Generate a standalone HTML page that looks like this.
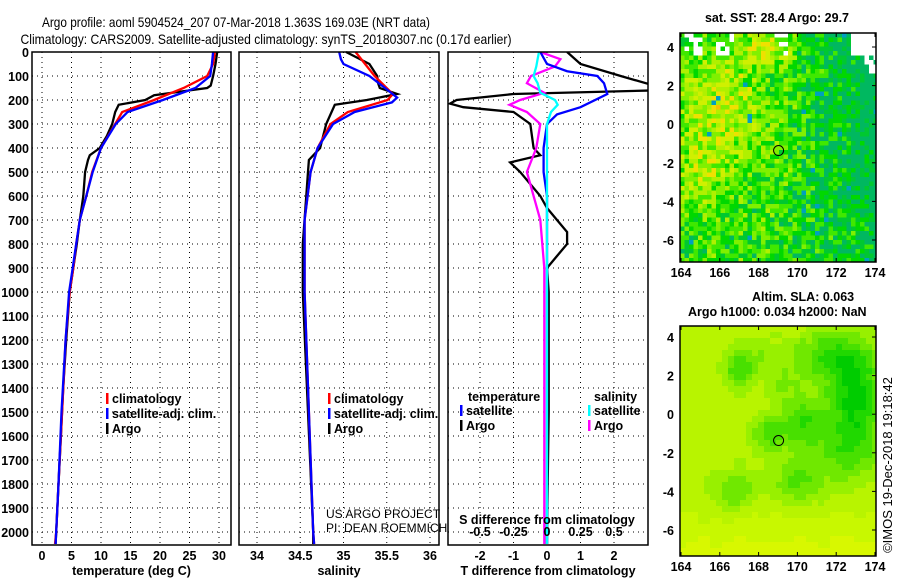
<!DOCTYPE html>
<html><head><meta charset="utf-8"><style>
html,body{margin:0;padding:0;background:#fff;}
svg{display:block;font-family:"Liberation Sans",sans-serif;}
.t{font-size:12.5px;font-weight:bold;fill:#000;}
</style></head><body>
<svg id="fig" width="900" height="580" viewBox="0 0 900 580">
<text x="236" y="27" text-anchor="middle" font-size="14" textLength="388" lengthAdjust="spacingAndGlyphs">Argo profile: aoml 5904524_207 07-Mar-2018 1.363S 169.03E (NRT data)</text>
<text x="266" y="44" text-anchor="middle" font-size="14" textLength="491" lengthAdjust="spacingAndGlyphs">Climatology: CARS2009. Satellite-adjusted climatology: synTS_20180307.nc (0.17d earlier)</text>
<g id="panels"></g>
<text class="t" x="777" y="22" text-anchor="middle">sat. SST: 28.4 Argo: 29.7</text>
<text class="t" x="752" y="301">Altim. SLA: 0.063</text>
<text class="t" x="688" y="316">Argo h1000: 0.034 h2000: NaN</text>
<text x="892" y="465" font-size="13" text-anchor="middle" transform="rotate(-90 892 465)">©IMOS 19-Dec-2018 19:18:42</text>
</svg>
<script>
// ---- profile data ----
const depthT_argo = [0,50,100,140,150,160,180,200,220,250,300,350,400,430,450,500,600,700,800,900,1000,1200,1400,1600,1800,2000,2050];
const temp_argo   = [29.7,29.4,29.0,28.6,28.0,25.0,19.0,17.5,13.0,12.4,11.9,11.0,9.8,8.1,7.8,7.3,7.0,6.4,5.9,5.3,4.7,4.1,3.6,3.2,2.8,2.4,2.3];
const depthT_clim = [0,50,100,150,200,250,300,400,500,600,700,800,900,1000,1200,1500,1800,2000,2050];
const temp_clim   = [29.3,29.0,28.0,24.0,19.0,13.6,12.4,10.0,8.5,7.5,6.4,5.8,5.3,4.7,4.0,3.4,2.8,2.4,2.2];
const temp_sat    = [29.0,28.8,28.5,26.0,20.5,14.5,12.5,10.0,8.6,7.5,6.4,5.8,5.2,4.6,4.0,3.3,2.8,2.4,2.3];
const depthS_argo = [0,50,100,130,150,175,200,220,300,400,450,500,800,1000,1500,2000,2050];
const sal_argo    = [35.03,35.3,35.39,35.40,35.42,35.62,35.27,34.9,34.8,34.73,34.6,34.59,34.53,34.53,34.59,34.65,34.65];
const depthS_clim = [0,50,100,175,200,250,300,400,500,700,1000,1500,2000,2050];
const sal_clim    = [35.14,35.25,35.36,35.57,35.51,35.05,34.85,34.7,34.62,34.55,34.55,34.6,34.65,34.66];
const depthS_sat  = [0,30,50,100,150,190,210,250,300,400,500,700,1000,1500,2000,2050];
const sal_sat     = [34.95,34.97,35.0,35.3,35.48,35.62,35.56,35.13,34.88,34.7,34.62,34.55,34.55,34.6,34.65,34.66];
const depthD_T    = [0,50,100,140,160,175,200,215,230,250,300,400,430,460,500,600,650,700,750,800,850,900,1000,1500,2000,2050];
const tdiff_argo  = [0.6,1.0,2.2,3.2,3.2,-1.0,-2.7,-2.9,-2.5,-1.0,-0.5,-0.4,-0.2,-1.1,-0.8,-0.2,0.0,0.3,0.6,0.6,0.3,0.0,0.05,0.05,0.0,0.0];
const depthD_sat  = [0,50,80,100,130,175,230,260,300,400,500,600,2050];
const tdiff_sat   = [-0.2,0.0,0.6,1.5,1.7,1.8,1.0,0.3,0.0,-0.1,-0.1,0.0,0.0];
const depthD_S    = [0,30,60,100,130,170,200,220,250,300,400,500,700,900,2050];
const sdiff_argo  = [-0.05,0.1,0.06,-0.12,-0.15,-0.02,-0.2,-0.28,-0.15,-0.05,-0.08,-0.15,-0.05,-0.02,-0.02];
const sdiff_sat   = [-0.06,-0.07,-0.08,-0.1,-0.07,-0.05,0.06,0.08,0.03,0.0,0.0,0.0,0.0,0.0,0.0];
const depthTicks  = [0,100,200,300,400,500,600,700,800,900,1000,1100,1200,1300,1400,1500,1600,1700,1800,1900,2000];
const tempTicks   = [0,5,10,15,20,25,30];
const salTicks    = [34,34.5,35,35.5,36];
const tdTicks     = [-2,-1,0,1,2];
const sdTicks     = [-0.5,-0.25,0,0.25,0.5];
const lonTicks    = [164,166,168,170,172,174];
const latTicks    = [4,2,0,-2,-4,-6];

const NS="http://www.w3.org/2000/svg";
const G=document.getElementById('panels');
function mk(tag,attrs,parent){const e=document.createElementNS(NS,tag);for(const k in attrs)e.setAttribute(k,attrs[k]);(parent||G).appendChild(e);return e;}
const yD=d=>52+d*0.24;
const TOP=52,BOT=545;
function panel(x0,x1,name,xs,ticks,tickFmt,xlabel){
  const g=mk('g',{});
  
  
  ticks.forEach(t=>{const l=mk('line',{x1:xs(t),x2:xs(t),y1:TOP,y2:BOT,stroke:'#000','stroke-width':1,'stroke-dasharray':'1 4'},g);
    });
  depthTicks.forEach(d=>{const l=mk('line',{x1:x0,x2:x1,y1:yD(d),y2:yD(d),stroke:'#000','stroke-width':1,'stroke-dasharray':'1 4'},g);
    });
  if(tickFmt){ticks.forEach(t=>{const tx=mk('text',{x:xs(t),y:BOT+15,'text-anchor':'middle',class:'t'},g);tx.textContent=tickFmt(t);
    });}
  if(xlabel){const tx=mk('text',{x:(x0+x1)/2,y:BOT+30,'text-anchor':'middle',class:'t'},g);tx.textContent=xlabel;
    }
  return g;
}
function frame(x0,x1,g){const r=mk('rect',{x:x0,y:TOP,width:x1-x0,height:BOT-TOP,fill:'none',stroke:'#000','stroke-width':1.5},g);
  }
function line(g,xs,vals,depths,color,name){
  const p=vals.map((v,i)=>xs(v).toFixed(1)+','+yD(depths[i]).toFixed(1)).join(' ');
  const l=mk('polyline',{points:p,fill:'none',stroke:color,'stroke-width':2.3},g);
  
}
function legend(g,x,y,items){items.forEach((it,i)=>{
  const yy=y+i*15;
  const b=mk('rect',{x:x,y:yy-10,width:2.5,height:11,fill:it[0]},g);
  
  if(it[1]){const t=mk('text',{x:x+6,y:yy,class:'t'},g);t.textContent=it[1];
  }
});}
depthTicks.forEach(d=>{const t=mk('text',{x:29,y:yD(d)+5,'text-anchor':'end',class:'t'});t.textContent=d;
  });
// Panel 1 temperature
const xT=v=>42+v*5.9;
let g1=panel(32,231,'temperature-panel',xT,tempTicks,t=>t,'temperature (deg C)');
line(g1,xT,temp_argo,depthT_argo,'#000','temp-argo-line');
line(g1,xT,temp_clim,depthT_clim,'#f00','temp-climatology-line');
line(g1,xT,temp_sat,depthT_clim,'#00f','temp-satellite-line');
frame(32,231,g1);
legend(g1,106,403,[['#f00','climatology'],['#00f','satellite-adj. clim.'],['#000','Argo']]);
// Panel 2 salinity
const xS=v=>257+(v-34)*86.5;
let g2=panel(239,439,'salinity-panel',xS,salTicks,t=>t,'salinity');
line(g2,xS,sal_argo,depthS_argo,'#000','sal-argo-line');
line(g2,xS,sal_clim,depthS_clim,'#f00','sal-climatology-line');
line(g2,xS,sal_sat,depthS_sat,'#00f','sal-satellite-line');
frame(239,439,g2);
legend(g2,328,403,[['#f00','climatology'],['#00f','satellite-adj. clim.'],['#000','Argo']]);
[['US ARGO PROJECT',518],['PI: DEAN ROEMMICH',532]].forEach(a=>{const t=mk('text',{x:326,y:a[1],'font-size':12},g2);t.textContent=a[0];
  });
// Panel 3 differences
const xTD=v=>547+v*33.5;
const xSD=v=>547+v*134;
const g3=mk('g',{});

const cp=mk('clipPath',{id:'c3'},g3);mk('rect',{x:448,y:TOP,width:200,height:BOT-TOP},cp);
let g3b=panel(448,648,'difference-grid',xTD,tdTicks,t=>t,'T difference from climatology');
g3.appendChild(g3b);
const g3c=mk('g',{'clip-path':'url(#c3)'},g3);
line(g3c,xTD,tdiff_argo,depthD_T,'#000','tdiff-argo-line');
line(g3c,xSD,sdiff_argo,depthD_S,'#f0f','sdiff-argo-line');
line(g3c,xTD,tdiff_sat,depthD_sat,'#00f','tdiff-satellite-line');
line(g3c,xSD,sdiff_sat,depthD_S,'#0ff','sdiff-satellite-line');
frame(448,648,g3);
sdTicks.forEach(t=>{const tx=mk('text',{x:xSD(t),y:536,'text-anchor':'middle',class:'t'},g3);tx.textContent=t;
  });
{const tx=mk('text',{x:547,y:524,'text-anchor':'middle',class:'t'},g3);tx.textContent='S difference from climatology';
  }
{const tx=mk('text',{x:468,y:401,class:'t'},g3);tx.textContent='temperature';}
{const tx=mk('text',{x:594,y:401,class:'t'},g3);tx.textContent='salinity';}
legend(g3,460,415,[['#00f','satellite'],['#000','Argo']]);
legend(g3,588,415,[['#0ff','satellite'],['#f0f','Argo']]);

// ---- maps ----
function hash(i,j,s){let h=(i*374761393+j*668265263+s*1442695041)|0;h=(h^(h>>>13))*1274126177|0;return ((h^(h>>>16))>>>0)/4294967296;}
function blobs(lo,la,list){let s=0;list.forEach(b=>{const dx=(lo-b[0])/b[2],dy=(la-b[1])/b[3];s+=b[4]*Math.exp(-(dx*dx+dy*dy));});return s;}
function map(top,bot,name,mode){
  const x0=680,x1=876;
  const g=mk('g',{});
  const lon=v=>681+(v-164)*19.4;
  const lat=v=>(mode?47:337)-(v-4)*19.3;
  const ilon=x=>164+(x-681)/19.4;
  const ilat=y=>4-(y-(mode?47:337))/19.3;
  const cs=mode?4.5:6;
  for(let y=top;y<bot;y+=cs){for(let x=x0;x<x1;x+=cs){
    const lo=ilon(x+cs/2), la=ilat(y+cs/2);
    let c;
    if(mode){
      const r=hash(Math.round(x*2),Math.round(y*2),1);
      let w=0.3+blobs(lo,la,[[166,1,2.5,3,0.4],[165,-3,1.5,2,0.25],[168.5,4,1.2,1,0.35],[173,-6,1.5,1,0.15]])-0.3*Math.max(0,lo-169.5)/4;
      w+=(r-0.5)*0.55;
      const pal=['#00b860','#00c830','#00d800','#40e800','#80f000','#b0f000','#d0f000','#f0e000','#f8c000'];
      let k=Math.max(0,Math.min(pal.length-1,Math.round(w*8)));
      c=pal[k]; if(r>0.992)c='#00a0c0';
      if(la>3.6&&(lo<165.2||lo>165.8&&lo<166.8||lo>168.8&&lo<169.5)&&r>0.55)c='#fff';
      if(lo>172.8&&la>3.6)c='#fff';
      if(lo>173.5&&la>2.6&&la<3.6&&r>0.5)c='#fff';
    } else {
      let v=0.72-blobs(lo,la,[[173,1,1.4,2.6,0.7],[171.5,3,1.6,1.3,0.45],[170.3,-0.5,1.1,1.4,0.5],[168.5,-1,0.9,1.1,0.4],[167,2.2,0.7,0.9,0.45],[166.7,-4,1.1,1.1,0.35],[170,-3.5,1.3,1.1,0.4],[172.5,-2,1.6,1.6,0.35],[169.2,1.5,0.7,0.7,0.25],[168,3,1.5,1,0.2]]);
      v+=0.25*Math.max(0,(-4.5-la)/2.5);
      v+=(hash(Math.floor(x/12),Math.floor(y/12),3)-0.5)*0.08;
      const pal=['#00cc00','#20d800','#48e000','#70e800','#98f000','#b8f400','#c8f800','#d8f800'];
      c=pal[Math.max(0,Math.min(7,Math.round(v*7)))];
    }
    mk('rect',{x:x,y:y,width:Math.min(cs,x1-x)+0.3,height:Math.min(cs,bot-y)+0.3,fill:c},g);
  }}
  const f=mk('rect',{x:x0,y:top,width:x1-x0,height:bot-top,fill:'none',stroke:'#000','stroke-width':1.5},g);
  
  lonTicks.forEach(v=>{mk('line',{x1:lon(v),x2:lon(v),y1:top,y2:top+4,stroke:'#000'},g);mk('line',{x1:lon(v),x2:lon(v),y1:bot,y2:bot-4,stroke:'#000'},g);
    const t=mk('text',{x:lon(v),y:bot+15,'text-anchor':'middle',class:'t'},g);t.textContent=v;
    });
  latTicks.forEach(v=>{mk('line',{x1:x1,x2:x1-4,y1:lat(v),y2:lat(v),stroke:'#000'},g);
    const t=mk('text',{x:x0-6,y:lat(v)+5,'text-anchor':'end',class:'t'},g);t.textContent=v;
    });
  const m=mk('circle',{cx:lon(169.03),cy:lat(-1.363),r:5,fill:'none',stroke:'#000','stroke-width':1},g);
  
}
map(33,262,'sst-map',1);
map(326,556,'sla-map',0);
</script>
</body></html>
